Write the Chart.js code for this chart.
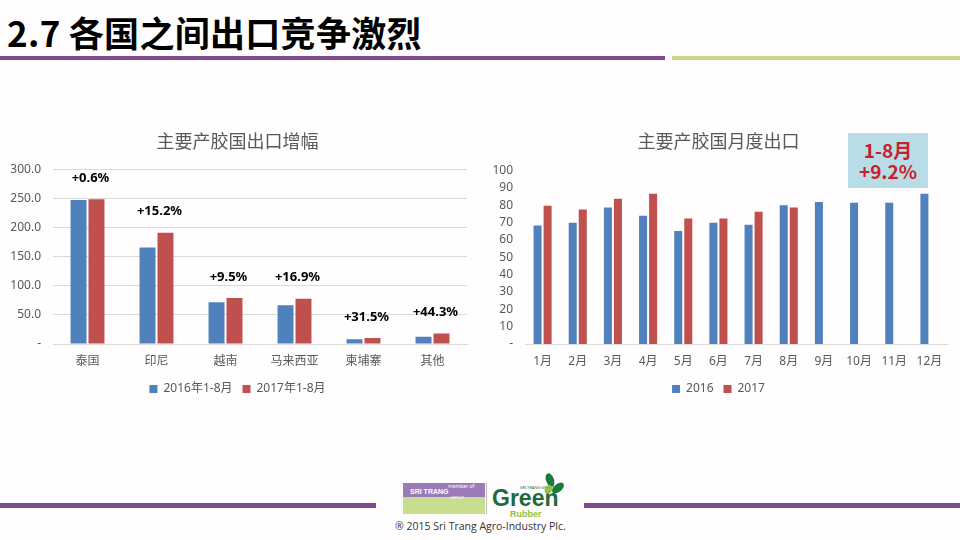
<!DOCTYPE html>
<html>
<head>
<meta charset="utf-8">
<script src="https://cdn.jsdelivr.net/npm/chart.js@4"></script>
<style>
  html, body { margin: 0; padding: 0; }
  body { width: 960px; height: 540px; background: #fffdfe; position: relative; overflow: hidden;
         font-family: 'Noto Sans', 'Noto Sans CJK SC', sans-serif; }
  .abs { position: absolute; }
  #slide-title { left: 7px; top: 13px; font: bold 35px 'Noto Sans CJK SC', sans-serif; color: #000; line-height: 1.1; white-space: nowrap; letter-spacing: 0.3px; }
  .bar { position: absolute; height: 4px; }
  #left-chart { left: 0; top: 120px; }
  #right-chart { left: 490px; top: 120px; }
  #note { left: 848px; top: 133px; width: 80px; height: 55px; background: #b9dde7; color: #c8202a;
          font: bold 19px 'Noto Sans CJK SC', sans-serif; text-align: center; line-height: 21px; padding-top: 6px; box-sizing: border-box; }
  .logo-txt { position: absolute; white-space: nowrap; }
</style>
</head>
<body>
<div id="slide-title" class="abs">2.7 各国之间出口竞争激烈</div>
<div class="bar" style="left:0;top:56px;width:665px;background:#7d4a8e"></div>
<div class="bar" style="left:672px;top:56px;width:288px;background:#c6d88f"></div>

<canvas id="left-chart" class="abs" width="470" height="285"></canvas>
<canvas id="right-chart" class="abs" width="470" height="285"></canvas>
<div id="note" class="abs">1-8月<br>+9.2%</div>

<!-- footer -->
<div class="bar" style="left:0;top:503px;width:376px;height:5px;background:#7d4a8e"></div>
<div class="bar" style="left:584px;top:503px;width:376px;height:5px;background:#7d4a8e"></div>
<div class="abs" style="left:403px;top:483px;width:82px;height:14px;background:#9b7bb7"></div>
<div class="abs" style="left:403px;top:497px;width:82px;height:17px;background:#c9dd8f"></div>
<div class="logo-txt" style="left:448px;top:483px;font:5px 'Noto Sans';color:#fff">member of</div>
<div class="logo-txt" style="left:410px;top:488px;font:bold 7px 'Liberation Sans';color:#fff">SRI TRANG</div>
<div class="logo-txt" style="left:450px;top:495px;font:4px 'Noto Sans';color:#fff">GROUP</div>
<div class="abs" style="left:486px;top:483px;width:1px;height:31px;background:#bbb"></div>
<div class="logo-txt" style="left:520px;top:485px;font:4px 'Noto Sans';color:#1e6b3c">SRI TRANG GROUP</div>
<div class="logo-txt" style="left:492px;top:487px;font:bold 23px 'Liberation Sans';color:#1e6b3c;line-height:1">Green</div>
<div class="logo-txt" style="left:510px;top:509px;font:bold 9px 'Liberation Sans';color:#8cc43f">Rubber</div>
<div class="abs" style="left:546px;top:473px;width:8px;height:14px;background:#1e7a3c;border-radius:50%;transform:rotate(-20deg)"></div>
<div class="abs" style="left:554px;top:481px;width:8px;height:14px;background:#1e7a3c;border-radius:50%;transform:rotate(50deg)"></div>
<div class="abs" style="left:545px;top:485px;width:7px;height:9px;background:#8cc43f;border-radius:50%;transform:rotate(30deg)"></div>
<div class="logo-txt" style="left:395px;top:519px;font:10.5px 'Open Sans';color:#333">® 2015 Sri Trang Agro-Industry Plc.</div>

<script>
// ---- data: left chart (main rubber producers, export growth, Jan-Aug)
const countries = ['泰国', '印尼', '越南', '马来西亚', '柬埔寨', '其他'];
const exports2016 = [247.5, 166, 72, 66.5, 8, 12.6];
const exports2017 = [249, 191.5, 79, 77.8, 10.5, 18.2];
const growthLabels = ['+0.6%', '+15.2%', '+9.5%', '+16.9%', '+31.5%', '+44.3%'];
const leftTicks = [0, 50, 100, 150, 200, 250, 300];

// ---- data: right chart (monthly exports)
const months = ['1月', '2月', '3月', '4月', '5月', '6月', '7月', '8月', '9月', '10月', '11月', '12月'];
const monthly2016 = [68.4, 69.9, 78.7, 73.9, 65.1, 69.9, 68.8, 80.0, 81.9, 81.5, 81.5, 86.7];
const monthly2017 = [79.8, 77.5, 83.8, 86.7, 72.4, 72.4, 76.2, 78.7, null, null, null, null];
const rightTicks = [0, 10, 20, 30, 40, 50, 60, 70, 80, 90, 100];

const BLUE = '#4f81bd';
const RED = '#c0504d';
const GREY = '#595959';
const FONT = "'Noto Sans', 'Noto Sans CJK SC', sans-serif";

// growth % labels above each country pair
const growthPlugin = {
  id: 'growth',
  afterDatasetsDraw(chart) {
    const c = chart.ctx;
    const xs = chart.scales.x;
    const m0 = chart.getDatasetMeta(0), m1 = chart.getDatasetMeta(1);
    c.save();
    c.font = "bold 13px 'Noto Sans', sans-serif";
    c.fillStyle = '#000';
    c.textAlign = 'center';
    c.textBaseline = 'middle';
    growthLabels.forEach((t, i) => {
      const top = Math.min(m0.data[i].y, m1.data[i].y);
      c.fillText(t, xs.getPixelForValue(i) + 3, top - 21);
    });
    c.restore();
  }
};

function makeOpts(title, ticks, fmt, pad, yWidth, grid, cat, bar) {
  return {
    responsive: false,
    animation: false,
    layout: { padding: pad },
    datasets: { bar: { categoryPercentage: cat, barPercentage: bar } },
    plugins: {
      title: { display: true, text: title, color: GREY, padding: { top: 10, bottom: pad.titleBottom },
               font: { family: "'Noto Sans CJK SC', sans-serif", size: 18, weight: 'normal' } },
      legend: { position: 'bottom',
                labels: { boxWidth: 8, boxHeight: 8, color: GREY, padding: 10,
                          font: { family: FONT, size: 12 } } },
      tooltip: { enabled: false }
    },
    scales: {
      x: {
        grid: { display: false, drawTicks: false },
        border: { display: true, color: '#d9d9d9' },
        ticks: { color: GREY, padding: 10, font: { family: FONT, size: 12 } },
        afterFit: s => { s.height = 29; }
      },
      y: {
        min: 0, max: ticks[ticks.length - 1],
        afterBuildTicks: s => { s.ticks = ticks.map(v => ({ value: v })); },
        grid: { display: grid, color: '#d9d9d9', drawTicks: false },
        border: { display: false },
        ticks: { color: GREY, padding: 12, autoSkip: false, font: { family: FONT, size: 12 }, callback: fmt },
        afterFit: s => { s.width = yWidth; }
      }
    }
  };
}

new Chart(document.getElementById('left-chart'), {
  type: 'bar',
  data: {
    labels: countries,
    datasets: [
      { label: '2016年1-8月', data: exports2016, backgroundColor: BLUE },
      { label: '2017年1-8月', data: exports2017, backgroundColor: RED }
    ]
  },
  options: makeOpts('主要产胶国出口增幅', leftTicks, v => v === 0 ? '-' : v.toFixed(1),
                    { left: 8, right: 3, top: 0, bottom: 0, titleBottom: 18 }, 45, true, 0.52, 0.89),
  plugins: [growthPlugin]
});

new Chart(document.getElementById('right-chart'), {
  type: 'bar',
  data: {
    labels: months,
    datasets: [
      { label: '2016', data: monthly2016, backgroundColor: BLUE },
      { label: '2017', data: monthly2017, backgroundColor: RED }
    ]
  },
  options: makeOpts('主要产胶国月度出口', rightTicks, v => v === 0 ? '-' : String(v),
                    { left: 0, right: 13, top: 0, bottom: 0, titleBottom: 19 }, 35, false, 0.57, 0.8)
});
</script>
</body>
</html>
